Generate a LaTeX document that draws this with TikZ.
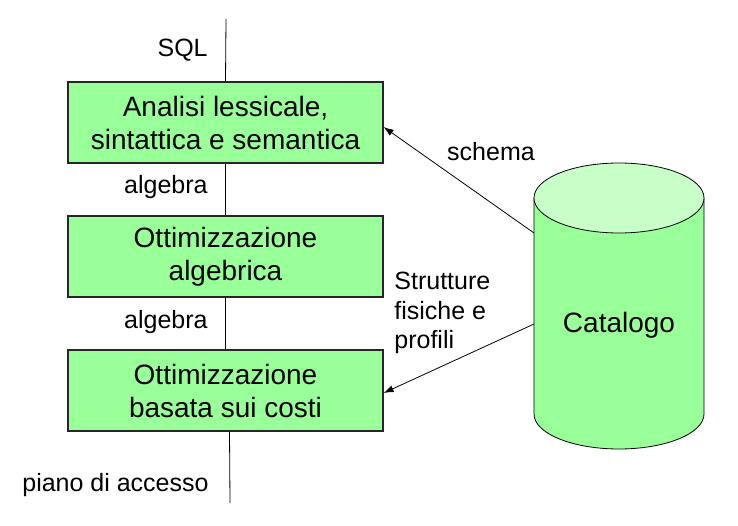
\documentclass[tikz,border=0pt]{standalone}
\usepackage{fontspec}
\setmainfont{Liberation Sans}
\usetikzlibrary{arrows.meta,positioning}
\definecolor{boxgreen}{HTML}{99FF99}
\definecolor{topgreen}{HTML}{C8FFC8}

\begin{document}
\begin{tikzpicture}[x=1pt,y=1pt,node distance=134pt,on grid,line width=0.8pt]
        \tikzstyle{step_box}=[draw=black!85,line width=1.2pt,fill=boxgreen,minimum width=315pt,minimum height=81pt,align=center,font=\fontsize{28}{33}\selectfont]
        \tikzstyle{flow_lbl}=[inner sep=0pt,font=\fontsize{25}{29.5}\selectfont]
        \useasboundingbox (0,0) rectangle (738,525);

        % pipeline
        \node[step_box]  (lex)                 at (225.5,402.5) {Analisi lessicale,\\sintattica e semantica};
        \node[step_box]  (alg) [below =of lex] {Ottimizzazione\\algebrica};
        \node[step_box]  (cost)[below =of alg] {Ottimizzazione\\basata sui costi};
        \coordinate (in)  at (226,506);
        \coordinate (out) at (230,22);

        \node[flow_lbl,anchor=east] (sql)  at (208,475) {SQL};
        \node[flow_lbl,anchor=east] (alg1) at (208,338) {algebra};
        \node[flow_lbl,anchor=east] (alg2) at (208,203) {algebra};
        \node[flow_lbl,anchor=east] (plan) at (209,40)  {piano di accesso};

        \draw (in) -- (lex.north);
        \draw (lex) -- (alg);
        \draw (alg) -- (cost);
        \draw ([xshift=4pt]cost.south) -- (out);

        % catalogo
        \fill[boxgreen] (534,327) -- (534,111) arc[start angle=180,end angle=360,x radius=85,y radius=35] -- (704,327) -- cycle;
        \draw (534,327) -- (534,111) arc[start angle=180,end angle=360,x radius=85,y radius=35] -- (704,327);
        \filldraw[fill=topgreen] (619,327) ellipse[x radius=85,y radius=35];
        \node[font=\fontsize{28}{33}\selectfont] (cat) at (619,200) {Catalogo};
        \coordinate (cat_s) at (534,292);
        \coordinate (cat_p) at (534,201);

        \node[flow_lbl] (schema) at (491,373) {schema};
        \node[flow_lbl,anchor=west,align=left] (fis) at (394,212) {Strutture\\fisiche e\\profili};

        \path[-{Latex[length=10pt,width=7pt]}]
        (cat_s) edge (lex.east |- 0,398)
        (cat_p) edge (cost.east |- 0,132);
\end{tikzpicture}
\end{document}
